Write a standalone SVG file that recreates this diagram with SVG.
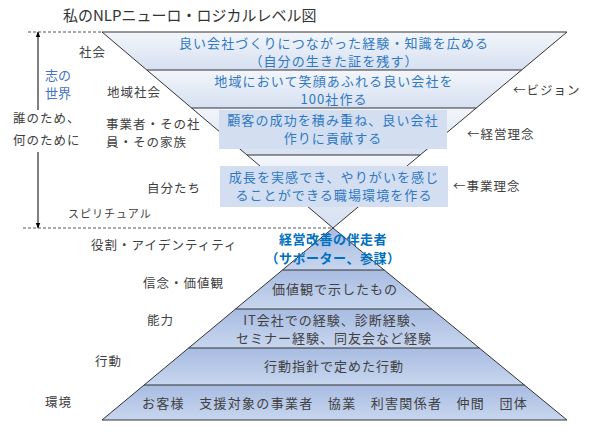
<svg xmlns="http://www.w3.org/2000/svg" width="593" height="432" viewBox="0 0 593 432">
<defs>
<linearGradient id="gTop" x1="0" y1="0" x2="0" y2="1"><stop offset="0" stop-color="#f3f6fb"/><stop offset="1" stop-color="#d6e0f1"/></linearGradient>
<linearGradient id="gBot" x1="0" y1="0" x2="0" y2="1"><stop offset="0" stop-color="#a8bce2"/><stop offset="1" stop-color="#c8d6ee"/></linearGradient>
<marker id="ah" viewBox="0 0 10 10" refX="9" refY="5" markerWidth="6" markerHeight="6" orient="auto-start-reverse"><path d="M0,1 L10,5 L0,9 z" fill="#000"/></marker>
<style>
text{font-family:"Noto Sans CJK JP","Noto Sans",sans-serif;}
.blue{fill:#2f78c4;font-size:13px;text-anchor:middle;letter-spacing:1.1px}
.lab{fill:#404040;font-size:12.5px;letter-spacing:1px}
.dark{fill:#404040;font-size:13px;text-anchor:middle;letter-spacing:1px}
.bold{font-size:13px;font-weight:bold;fill:#0070c0;text-anchor:middle;letter-spacing:0.5px}
.edge{stroke:#333;stroke-width:1;fill:none}
.band{stroke:none}
.box{fill:#d3dff1}
.dash{stroke:#555;stroke-width:1;stroke-dasharray:3,2;fill:none}
</style>
</defs>
<rect width="593" height="432" fill="#fff"/>
<text x="63" y="21" style="font-size:15px;fill:#333">私のNLPニューロ・ロジカルレベル図</text>

<g id="dashes">
<line class="dash" x1="28" y1="32" x2="102" y2="32"/>
<line class="dash" x1="23" y1="228" x2="333" y2="228"/>
</g>

<g id="top-triangle">
<polygon class="band" fill="url(#gTop)" points="102,32 567,32 521.6,70 146.8,70"/>
<polygon class="band" fill="url(#gTop)" points="146.8,70 521.6,70 476.3,108 191.6,108"/>
<polygon class="band" fill="url(#gTop)" points="191.6,108 476.3,108 420.1,155 247,155"/>
<polygon class="band" fill="url(#gTop)" points="247,155 420.1,155 333,228"/>
<polyline class="edge" points="102,32 567,32 333,228 102,32"/>
<line class="edge" x1="146.8" y1="70" x2="521.6" y2="70"/>
<line class="edge" x1="191.6" y1="108" x2="476.3" y2="108"/>
<line class="edge" x1="247" y1="155" x2="420.1" y2="155"/>
</g>

<g id="bottom-pyramid">
<polygon class="band" fill="url(#gBot)" points="333,228 384.2,270 282.5,270"/>
<polygon class="band" fill="url(#gBot)" points="282.5,270 384.2,270 431.7,309 235.6,309"/>
<polygon class="band" fill="url(#gBot)" points="235.6,309 431.7,309 479.3,348 188.6,348"/>
<polygon class="band" fill="url(#gBot)" points="188.6,348 479.3,348 524.4,385 144.1,385"/>
<polygon class="band" fill="url(#gBot)" points="144.1,385 524.4,385 567,420 102,420"/>
<polyline class="edge" points="333,228 567,420 102,420 333,228"/>
<line class="edge" x1="282.5" y1="270" x2="384.2" y2="270"/>
<line class="edge" x1="235.6" y1="309" x2="431.7" y2="309"/>
<line class="edge" x1="188.6" y1="348" x2="479.3" y2="348"/>
<line class="edge" x1="144.1" y1="385" x2="524.4" y2="385"/>
</g>

<g id="n-vision-text">
<text class="blue" x="334" y="48">良い会社づくりにつながった経験・知識を広める</text>
<text class="blue" x="334" y="66">（自分の生きた証を残す）</text>
</g>
<g id="n-region-text">
<text class="blue" x="334" y="86">地域において笑顔あふれる良い会社を</text>
<text class="blue" x="334" y="104">100社作る</text>
</g>
<g id="n-mgmt">
<rect class="box" x="219" y="110" width="228" height="39"/>
<text class="blue" x="333" y="125">顧客の成功を積み重ね、良い会社</text>
<text class="blue" x="333" y="143">作りに貢献する</text>
</g>
<g id="n-biz">
<rect class="box" x="220" y="166" width="228" height="41"/>
<text class="blue" x="334" y="182">成長を実感でき、やりがいを感じ</text>
<text class="blue" x="334" y="200">ることができる職場環境を作る</text>
</g>
<g id="n-role-text">
<text class="bold" x="333" y="244">経営改善の伴走者</text>
<text class="bold" x="333" y="263">（サポーター、参謀）</text>
</g>
<g id="n-pyr-text">
<text class="dark" x="335" y="294">価値観で示したもの</text>
<text class="dark" x="334" y="325">IT会社での経験、診断経験、</text>
<text class="dark" x="334" y="343">セミナー経験、同友会など経験</text>
<text class="dark" x="334" y="371">行動指針で定めた行動</text>
<text class="dark" x="335" y="408" style="letter-spacing:1.3px">お客様　支援対象の事業者　協業　利害関係者　仲間　団体</text>
</g>

<g id="left-labels">
<text class="lab" x="79" y="57">社会</text>
<text x="45" y="80" style="font-size:13px;fill:#4472c4">志の</text>
<text x="45" y="98" style="font-size:13px;fill:#4472c4">世界</text>
<text class="lab" x="107" y="97">地域社会</text>
<text class="lab" x="13" y="123">誰のため、</text>
<text class="lab" x="13" y="145">何のために</text>
<text class="lab" x="106" y="129">事業者・その社</text>
<text class="lab" x="106" y="147">員・その家族</text>
<text class="lab" x="147" y="193">自分たち</text>
<text x="68" y="218" style="font-size:11px;fill:#404040;letter-spacing:1px">スピリチュアル</text>
<text class="lab" x="91" y="250">役割・アイデンティティ</text>
<text class="lab" x="143" y="288">信念・価値観</text>
<text class="lab" x="147" y="325">能力</text>
<text class="lab" x="95" y="366">行動</text>
<text class="lab" x="45" y="407">環境</text>
</g>

<g id="right-labels">
<text class="lab" x="513" y="95">←ビジョン</text>
<text class="lab" x="467" y="139">←経営理念</text>
<text class="lab" x="453" y="191">←事業理念</text>
</g>

<g id="connectors">
<line x1="38" y1="110" x2="38" y2="32" stroke="#000" stroke-width="1" marker-end="url(#ah)"/>
<line x1="38" y1="152" x2="38" y2="228" stroke="#000" stroke-width="1" marker-end="url(#ah)"/>
</g>
</svg>
